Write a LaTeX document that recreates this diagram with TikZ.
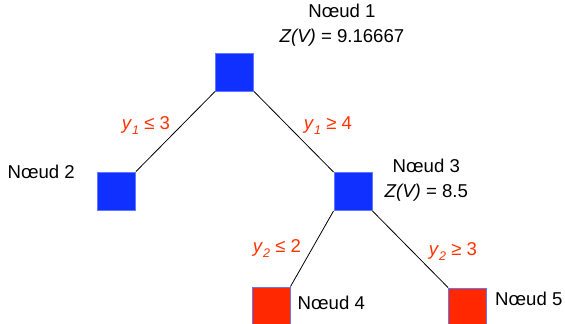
\documentclass[tikz,border=0pt]{standalone}
\usepackage{fontspec}
\setmainfont{Liberation Sans}
\usetikzlibrary{positioning}

\definecolor{bleunoeud}{RGB}{16,48,255}
\definecolor{bordnoeud}{RGB}{96,120,255}
\definecolor{rougenoeud}{RGB}{255,40,0}
\definecolor{rougecond}{RGB}{255,51,0}

% variable indicee : y_i
\newcommand{\varind}[1]{\textit{y}\raisebox{-5pt}{\fontsize{12.5}{12.5}\selectfont\textit{#1}}}

\begin{document}
\begin{tikzpicture}[
        x=1pt, y=-1pt,
        noeud/.style={rectangle, draw=bordnoeud, line width=1pt, minimum size=38pt, inner sep=0pt},
        interne/.style={noeud, fill=bleunoeud},
        feuille/.style={noeud, fill=rougenoeud},
        etiq/.style={font=\fontsize{18.6}{25}\selectfont, align=center, inner sep=0pt},
        cond/.style={etiq, text=rougecond},
        branche/.style={line width=0.8pt}
    ]
        \clip (0,0) rectangle (565,324);

        % les noeuds de l'arbre
        \node[interne] (n1) at (234.5,72) {};
        \node[interne] (n2) at (116.5,191) {};
        \node[interne] (n3) at (353,191.5) {};
        \node[feuille] (n4) at (271,306) {};
        \node[feuille] (n5) at (467.5,307) {};

        % etiquettes
        \node[etiq] (t1) at (342,25) {Nœud 1\\\textit{Z(V)} = 9.16667};
        \node[etiq, left=22pt of n2, yshift=19pt] (t2) {Nœud 2};
        \node[etiq, right=12pt of n3.east, yshift=11pt] (t3) {Nœud 3\\\textit{Z(V)} = 8.5};
        \node[etiq, right=7pt of n4, yshift=3pt] (t4) {Nœud 4};
        \node[etiq, right=8pt of n5, yshift=8pt] (t5) {Nœud 5};

        % branches
        \draw[branche] (n1.south west) -- (n2.north east);
        \draw[branche] (n1.south east) -- (n3.north west);
        \draw[branche] (n3.south west) -- (n4.north east);
        \draw[branche] (n3.south east) -- (n5.north west);

        % conditions de branchement
        \node[cond] (c12) at (146,126) {\varind{1} ≤ 3};
        \node[cond] (c13) at (328,126) {\varind{1} ≥ 4};
        \node[cond] (c34) at (277,249) {\varind{2} ≤ 2};
        \node[cond] (c35) at (453,252) {\varind{2} ≥ 3};
    \end{tikzpicture}
\end{document}
